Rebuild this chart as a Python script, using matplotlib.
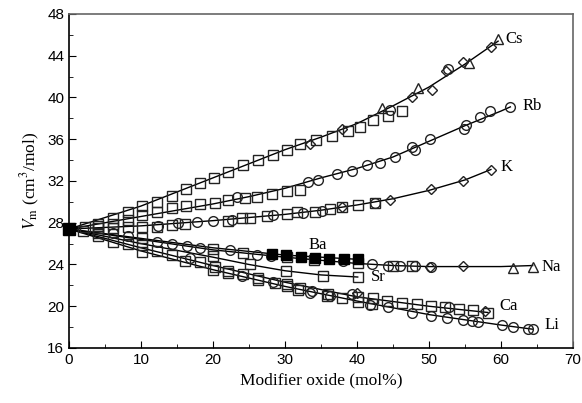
import numpy as np
import matplotlib.pyplot as plt

plt.rcParams['mathtext.fontset'] = 'stix'

# fitted curves
cs_line_x = [0, 10, 20, 30, 35, 40, 45, 50, 55, 59.6]
cs_line_y = [27.4, 29.6, 32.3, 35.0, 36.2, 37.5, 39.2, 41.0, 43.2, 45.4]
rb_line_x = [0, 10, 20, 25, 30, 35, 40, 45, 50, 55, 60, 61.3]
rb_line_y = [27.4, 28.6, 29.8, 30.5, 31.3, 32.3, 33.2, 34.3, 35.8, 37.3, 38.7, 39.1]
k_line_x = [0, 10, 20, 30, 35, 40, 45, 50, 55, 58.6]
k_line_y = [27.4, 27.7, 28.2, 28.8, 29.2, 29.7, 30.3, 31.1, 32.1, 33.1]
na_line_x = [0, 10, 20, 30, 40, 45, 50, 55, 60, 64.4]
na_line_y = [27.4, 26.4, 25.4, 24.7, 24.1, 23.9, 23.8, 23.8, 23.8, 23.9]
ba_line_x = [0, 10, 20, 30, 40]
ba_line_y = [27.4, 26.5, 25.6, 24.9, 24.5]
sr_line_x = [0, 10, 20, 25, 30, 35, 40.1]
sr_line_y = [27.4, 26.0, 24.7, 24.0, 23.4, 23.0, 22.8]
ca_line_x = [0, 10, 20, 30, 40, 50, 58.2]
ca_line_y = [27.4, 25.6, 23.9, 22.3, 20.9, 20.0, 19.4]
li_line_x = [0, 10, 20, 30, 40, 50, 60, 64.4]
li_line_y = [27.4, 25.3, 23.5, 21.9, 20.5, 19.2, 18.2, 17.8]

# measured points, by composition and symbol
cs_sq_x = [2.2, 4.0, 6.1, 8.2, 10.1, 12.2, 14.3, 16.3, 18.2, 20.2, 22.1, 24.2,
           26.3, 28.4, 30.3, 32.1, 34.3, 36.5, 38.8, 40.4, 42.2, 44.3, 46.3]
cs_sq_y = [27.6, 27.9, 28.5, 29.0, 29.6, 30.0, 30.6, 31.2, 31.8, 32.3, 32.9, 33.5,
           34.0, 34.5, 35.0, 35.5, 35.9, 36.3, 36.8, 37.2, 37.8, 38.2, 38.7]
cs_di_x = [33.5, 37.9, 47.7, 50.4, 52.4, 54.7, 58.6]
cs_di_y = [35.5, 37.0, 40.0, 40.7, 42.5, 43.4, 44.8]
cs_tr_x = [43.5, 48.5, 55.6, 59.6]
cs_tr_y = [39.0, 40.9, 43.3, 45.6]
cs_ci_x = [44.6, 52.7]
cs_ci_y = [38.8, 42.7]

rb_sq_x = [4.0, 6.1, 8.2, 10.1, 12.2, 14.3, 16.3, 18.2, 20.3, 22.1, 24.4, 26.1, 28.2, 30.3, 32.1]
rb_sq_y = [27.7, 27.9, 28.3, 28.7, 29.0, 29.4, 29.6, 29.8, 29.9, 30.2, 30.4, 30.5, 30.8, 31.0, 31.1]
rb_ci_x = [23.3, 33.2, 34.6, 37.2, 39.3, 41.4, 43.2, 45.3, 47.6, 48.1, 50.1,
           54.8, 55.2, 57.1, 58.5, 61.3]
rb_ci_y = [30.5, 31.9, 32.1, 32.7, 33.0, 33.5, 33.7, 34.3, 35.3, 35.0, 36.0,
           37.0, 37.4, 38.1, 38.7, 39.1]

k_sq_x = [4.0, 6.1, 8.2, 10.1, 12.2, 14.3, 16.1, 22.1, 24.0, 25.1, 27.5, 30.3,
          31.7, 34.2, 36.3, 37.9, 40.1, 42.5]
k_sq_y = [27.5, 27.5, 27.6, 27.6, 27.6, 27.8, 27.9, 28.2, 28.5, 28.5, 28.6, 28.8,
          29.0, 29.0, 29.3, 29.5, 29.7, 29.9]
k_ci_x = [12.4, 15.1, 17.8, 20.0, 22.6, 28.3, 32.5, 35.1, 42.5]
k_ci_y = [27.7, 28.0, 28.1, 28.2, 28.3, 28.7, 28.9, 29.1, 29.9]
k_di_x = [37.9, 44.6, 50.3, 54.7, 58.6]
k_di_y = [29.5, 30.2, 31.2, 32.0, 33.1]

na_ci_x = [6.1, 8.2, 12.2, 14.3, 16.4, 18.2, 22.4, 26.1, 28.0, 38.0, 42.1, 44.3,
           46.0, 48.1, 50.3]
na_ci_y = [27.0, 26.7, 26.2, 26.0, 25.8, 25.6, 25.4, 24.9, 24.8, 24.3, 24.0, 23.9,
           23.9, 23.9, 23.8]
na_sq_x = [2.0, 4.0, 10.1, 20.0, 24.2, 30.3, 34.0, 40.1, 45.0, 47.6]
na_sq_y = [27.2, 27.0, 26.5, 25.5, 25.1, 24.7, 24.4, 24.1, 23.9, 23.9]
na_di_x = [50.2, 54.7]
na_di_y = [23.8, 23.9]
na_tr_x = [61.7, 64.4]
na_tr_y = [23.7, 23.8]

ba_x = [28.2, 30.1, 32.2, 34.2, 36.1, 38.2, 40.1]
ba_y = [25.0, 24.9, 24.7, 24.6, 24.5, 24.5, 24.5]
origin_x = [0]
origin_y = [27.4]

sr_sq_x = [10.1, 20.0, 25.1, 30.2, 35.3, 40.1]
sr_sq_y = [25.9, 24.8, 24.0, 23.4, 22.9, 22.8]

ca_sq_x = [4.0, 8.2, 12.2, 14.3, 18.2, 20.3, 22.1, 24.2, 26.3, 30.3, 32.1, 36.0,
           40.1, 42.2, 44.2, 46.3, 48.3, 50.3, 52.2, 54.2, 56.1, 58.2]
ca_sq_y = [26.7, 26.0, 25.3, 24.9, 24.2, 23.8, 23.4, 23.1, 22.7, 22.1, 21.7, 21.2,
           20.9, 20.8, 20.5, 20.3, 20.2, 20.0, 19.9, 19.7, 19.6, 19.4]
ca_ci_x = [16.8, 28.3, 33.8, 39.3, 52.8]
ca_ci_y = [24.6, 22.3, 21.5, 21.2, 19.9]
ca_di_x = [40.0, 57.8]
ca_di_y = [21.3, 19.5]

li_sq_x = [6.1, 10.1, 16.1, 20.0, 22.1, 26.3, 28.6, 30.3, 31.8, 35.9, 37.9, 40.1, 42.1]
li_sq_y = [26.2, 25.2, 24.3, 23.5, 23.2, 22.5, 22.2, 21.9, 21.6, 21.0, 20.8, 20.4, 20.2]
li_ci_x = [24.0, 33.5, 36.3, 41.8, 44.3, 47.6, 50.3, 52.5, 54.7, 56.0, 56.8,
           60.1, 61.7, 63.8, 64.4]
li_ci_y = [22.9, 21.3, 21.0, 20.1, 19.9, 19.4, 19.1, 18.9, 18.7, 18.6, 18.5,
           18.2, 18.0, 17.8, 17.8]

labels = ['Cs', 'Rb', 'K', 'Na', 'Ba', 'Sr', 'Ca', 'Li']
label_x = [60.6, 63.0, 59.9, 65.6, 33.2, 41.9, 59.8, 66.0]
label_y = [45.6, 39.2, 33.3, 23.8, 25.9, 22.8, 20.0, 18.2]

fig = plt.figure(figsize=(5.82, 4.03), dpi=100)
ax = fig.add_axes([0.1186, 0.1365, 0.8659, 0.8288])

lines = [(cs_line_x, cs_line_y), (rb_line_x, rb_line_y), (k_line_x, k_line_y),
         (na_line_x, na_line_y), (ba_line_x, ba_line_y), (sr_line_x, sr_line_y),
         (ca_line_x, ca_line_y), (li_line_x, li_line_y)]
for lx, ly in lines:
    ax.plot(lx, ly, color='black', lw=1.0, zorder=2)

mk = dict(ls='none', mfc='none', mec='#222222', mew=1.0, zorder=3)
ms = 7
for x, y in [(cs_sq_x, cs_sq_y), (rb_sq_x, rb_sq_y), (k_sq_x, k_sq_y), (na_sq_x, na_sq_y),
             (sr_sq_x, sr_sq_y), (ca_sq_x, ca_sq_y), (li_sq_x, li_sq_y)]:
    ax.plot(x, y, marker='s', ms=ms, **mk)
for x, y in [(cs_ci_x, cs_ci_y), (rb_ci_x, rb_ci_y), (k_ci_x, k_ci_y), (na_ci_x, na_ci_y),
             (ca_ci_x, ca_ci_y), (li_ci_x, li_ci_y)]:
    ax.plot(x, y, marker='o', ms=ms, **mk)
for x, y in [(cs_di_x, cs_di_y), (k_di_x, k_di_y), (na_di_x, na_di_y), (ca_di_x, ca_di_y)]:
    ax.plot(x, y, marker='D', ms=4.6, **mk)
for x, y in [(cs_tr_x, cs_tr_y), (na_tr_x, na_tr_y)]:
    ax.plot(x, y, marker='^', ms=7.5, **mk)
ax.plot(ba_x, ba_y, marker='s', ms=6.5, ls='none', mfc='black', mec='black', zorder=4)
ax.plot(origin_x, origin_y, marker='s', ms=8, ls='none', mfc='black', mec='black',
        zorder=5, clip_on=False)

for t, x, y in zip(labels, label_x, label_y):
    ax.text(x, y, t, family='Liberation Serif', fontsize=12, va='center', ha='left')

ax.set_xlim(0, 70)
ax.set_ylim(16, 48)
ax.set_xticks(np.arange(0, 71, 10))
ax.set_xticks(np.arange(0, 71, 5), minor=True)
ax.set_yticks(np.arange(16, 49, 4))
ax.set_yticks(np.arange(16, 49, 2), minor=True)
ax.tick_params(which='both', direction='in', top=False, right=False,
               labelsize=11, labelfontfamily='Liberation Sans')
ax.tick_params(which='major', length=5)
ax.tick_params(which='minor', length=3)
for s in ['top', 'right']:
    ax.spines[s].set_color('#666666')
for s in ax.spines.values():
    s.set_linewidth(1.2)

ax.set_xlabel('Modifier oxide (mol%)', family='Liberation Serif', fontsize=12.5, labelpad=4)
ax.set_ylabel(r'$V_\mathrm{m}$ (cm$^3$/mol)', family='Liberation Serif', fontsize=12.5, labelpad=4)

fig.savefig('out.png', dpi=100)
